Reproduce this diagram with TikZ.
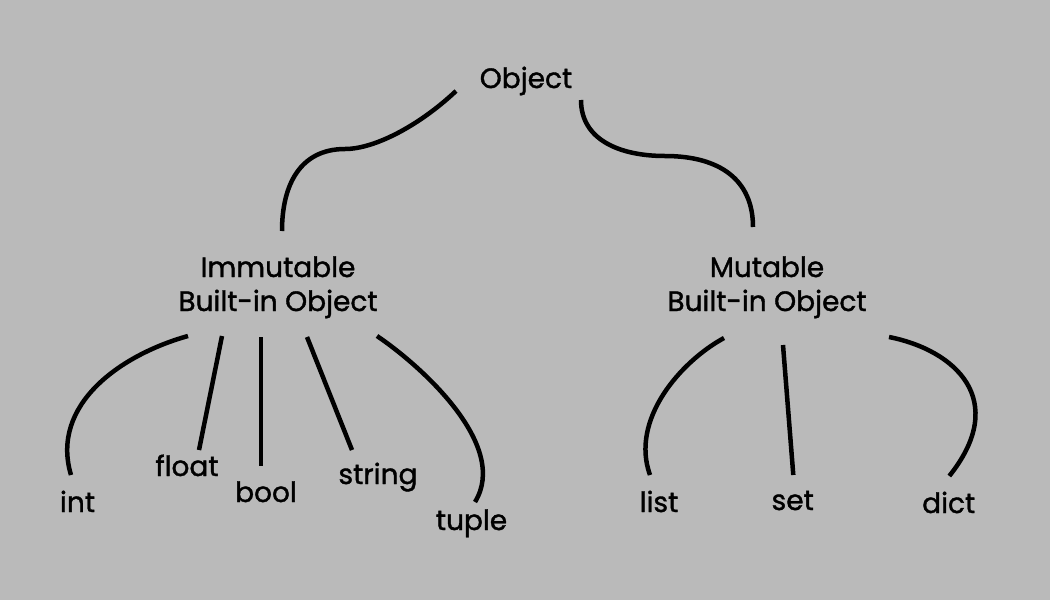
\documentclass[tikz,border=0pt]{standalone}
\usepackage{fontspec}
\setmainfont{Poppins}[FakeBold=1.3]
\definecolor{bg}{RGB}{186,186,186}
\tikzset{
  lbl/.style={font=\fontsize{28}{34}\selectfont, inner sep=0pt, anchor=base, align=center},
  link/.style={line width=4.5pt, draw=black}
}
\begin{document}
\begin{tikzpicture}[x=1pt,y=-1pt]
\fill[bg] (0,0) rectangle (1050,600);
\useasboundingbox (0,0) rectangle (1050,600);
% nodes
\node[lbl] (obj) at (526,88) {Object};
\node[lbl] (imm) at (278,311) {Immutable\\Built-in Object};
\node[lbl] (mut) at (767,311) {Mutable\\Built-in Object};
\node[lbl] (int) at (77.5,512) {int};
\node[lbl] (float) at (187,476) {float};
\node[lbl] (bool) at (266,502) {bool};
\node[lbl] (string) at (378,484) {string};
\node[lbl] (tuple) at (471.5,530) {tuple};
\node[lbl] (list) at (659,512) {list};
\node[lbl] (set) at (792.7,510) {set};
\node[lbl] (dict) at (948.7,513) {dict};
% connectors
\draw[link] ([shift={(-70,3)}]obj.base) .. controls (420,125) and (375,149) .. (345,149)
  .. controls (300,149) and (282,185) .. ([shift={(4,-80)}]imm.base);
\draw[link] ([shift={(55,12)}]obj.base) .. controls (581,140) and (620,156) .. (665,156)
  .. controls (720,156) and (753,180) .. ([shift={(-14,-84)}]mut.base);
\draw[link] ([shift={(-90,25)}]imm.base) .. controls (120,355) and (50,405) .. ([shift={(-6.5,-37)}]int.base);
\draw[link] ([shift={(-56,25)}]imm.base) -- ([shift={(12,-26)}]float.base);
\draw[link] ([shift={(-17,26)}]imm.base) -- ([shift={(-5,-36)}]bool.base);
\draw[link] ([shift={(29,26)}]imm.base) -- ([shift={(-26,-34)}]string.base);
\draw[link] ([shift={(99,25)}]imm.base) .. controls (420,365) and (510,445) .. ([shift={(3.5,-28)}]tuple.base);
\draw[link] ([shift={(-43,27)}]mut.base) .. controls (680,362) and (630,420) .. ([shift={(-9,-37)}]list.base);
\draw[link] ([shift={(16,34)}]mut.base) -- ([shift={(0.6,-35)}]set.base);
\draw[link] ([shift={(122,26)}]mut.base) .. controls (955,350) and (1010,400) .. ([shift={(0.6,-37)}]dict.base);
\end{tikzpicture}
\end{document}
